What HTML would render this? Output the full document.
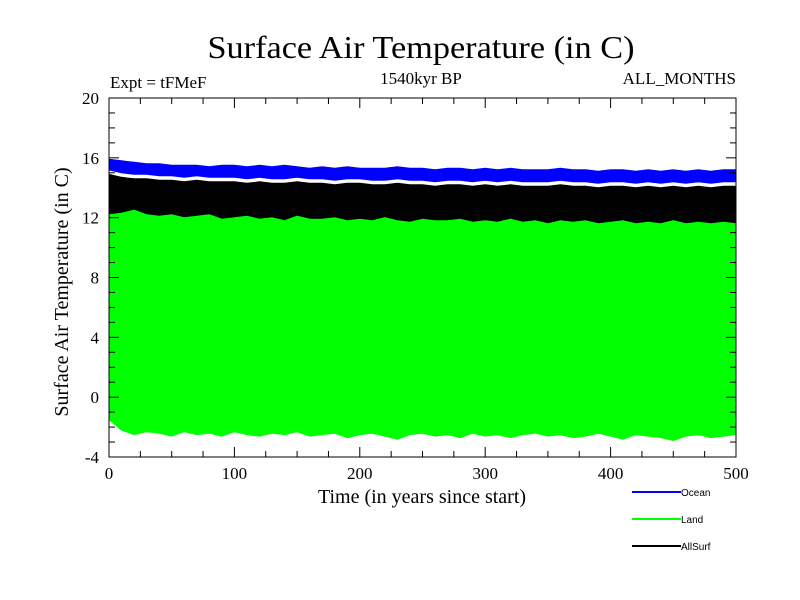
<!DOCTYPE html>
<html><head><meta charset="utf-8"><style>
html,body{margin:0;padding:0;background:#fff;width:800px;height:600px;overflow:hidden}
text{font-family:"Liberation Serif",serif;fill:#000}
.leg{font-family:"Liberation Sans",sans-serif;font-size:10px}
</style></head><body>
<svg id="chart" width="800" height="600">
<text x="421" y="58" font-size="32" text-anchor="middle" textLength="427" lengthAdjust="spacingAndGlyphs">Surface Air Temperature (in C)</text>
<text x="110" y="88" font-size="17">Expt = tFMeF</text>
<text x="421" y="84" font-size="17" text-anchor="middle">1540kyr BP</text>
<text x="736" y="84" font-size="17" text-anchor="end">ALL_MONTHS</text>
<text x="422" y="503" font-size="20" text-anchor="middle">Time (in years since start)</text>
<text transform="translate(68,292) rotate(-90)" font-size="20" text-anchor="middle">Surface Air Temperature (in C)</text>
<g id="marks"></g>
<g id="axes"></g>
<g id="legend"></g>
</svg>
<script>
const years = [0,10,20,30,40,50,60,70,80,90,100,110,120,130,140,150,160,170,180,190,200,210,220,230,240,250,260,270,280,290,300,310,320,330,340,350,360,370,380,390,400,410,420,430,440,450,460,470,480,490,500];
const oceanMax = [15.9,15.8,15.7,15.6,15.6,15.5,15.5,15.5,15.4,15.5,15.5,15.4,15.5,15.4,15.5,15.4,15.3,15.4,15.3,15.4,15.3,15.3,15.3,15.4,15.3,15.3,15.2,15.3,15.3,15.2,15.3,15.2,15.3,15.2,15.2,15.2,15.3,15.2,15.2,15.1,15.2,15.2,15.1,15.2,15.1,15.2,15.1,15.2,15.1,15.2,15.2];
const oceanMin = [15.2,15.0,14.9,14.9,14.8,14.8,14.7,14.8,14.7,14.7,14.7,14.6,14.7,14.6,14.6,14.7,14.6,14.6,14.5,14.6,14.6,14.5,14.5,14.6,14.5,14.5,14.4,14.5,14.5,14.4,14.5,14.4,14.5,14.4,14.4,14.4,14.5,14.4,14.4,14.3,14.4,14.4,14.3,14.4,14.3,14.4,14.3,14.4,14.3,14.4,14.4];
const allMax = [14.9,14.7,14.6,14.6,14.5,14.5,14.4,14.5,14.4,14.4,14.4,14.3,14.4,14.3,14.3,14.4,14.3,14.3,14.2,14.3,14.3,14.2,14.2,14.3,14.2,14.2,14.1,14.2,14.2,14.1,14.2,14.1,14.2,14.1,14.1,14.1,14.2,14.1,14.1,14.0,14.1,14.1,14.0,14.1,14.0,14.1,14.0,14.1,14.0,14.1,14.1];
const allMin = [10.5,11.3,11.2,11.2,11.1,11.1,11.0,11.1,11.0,11.0,11.0,10.9,11.0,10.9,10.9,11.0,10.9,10.9,10.8,10.9,10.9,10.8,10.8,10.9,10.8,10.8,10.7,10.8,10.8,10.7,10.8,10.7,10.8,10.7,10.7,10.7,10.8,10.7,10.7,10.6,10.7,10.7,10.6,10.7,10.6,10.7,10.6,10.7,10.6,10.7,10.7];
const landMax = [12.2,12.3,12.5,12.2,12.1,12.2,12.0,12.1,12.2,11.9,12.0,12.1,11.9,12.0,11.8,12.1,11.9,11.9,12.0,11.8,11.9,11.8,12.0,11.8,11.7,11.9,11.8,11.8,11.9,11.7,11.8,11.7,11.9,11.7,11.8,11.6,11.8,11.7,11.8,11.6,11.7,11.8,11.6,11.7,11.6,11.8,11.6,11.7,11.6,11.7,11.6];
const landMin = [-1.5,-2.2,-2.5,-2.3,-2.4,-2.6,-2.3,-2.5,-2.4,-2.6,-2.3,-2.5,-2.6,-2.4,-2.5,-2.3,-2.6,-2.5,-2.4,-2.7,-2.5,-2.4,-2.6,-2.8,-2.5,-2.4,-2.6,-2.5,-2.7,-2.4,-2.6,-2.5,-2.7,-2.5,-2.4,-2.6,-2.5,-2.7,-2.6,-2.4,-2.6,-2.8,-2.5,-2.6,-2.7,-2.9,-2.6,-2.5,-2.7,-2.6,-2.5];
const xTicks = [0,100,200,300,400,500];
const yTicks = [-4,0,4,8,12,16,20];
const legendNames = ["Ocean","Land","AllSurf"];
const legendColors = ["#0000ff","#00ff00","#000000"];

const X0=109,X1=736,Y0=98,Y1=457;
const xs=v=>X0+(v-0)/(500-0)*(X1-X0);
const ys=v=>Y1-(v+4)/24*(Y1-Y0);
const NS='http://www.w3.org/2000/svg';
function mk(tag,attrs,parent){const e=document.createElementNS(NS,tag);for(const k in attrs)e.setAttribute(k,attrs[k]);parent.appendChild(e);return e;}
const marks=document.getElementById('marks');
function band(maxA,minA,color,name){
  let d='';
  years.forEach((y,i)=>{d+=(i?'L':'M')+xs(y).toFixed(1)+','+ys(maxA[i]).toFixed(1);});
  for(let i=years.length-1;i>=0;i--)d+='L'+xs(years[i]).toFixed(1)+','+ys(minA[i]).toFixed(1);
  const p=mk('path',{d:d+'Z',fill:color,stroke:color,'stroke-width':1},marks);
  
  
}
band(oceanMax,oceanMin,'#0000ff','ocean-series');
band(allMax,allMin,'#000000','allsurf-series');
band(landMax,landMin,'#00ff00','land-series');

const axes=document.getElementById('axes');
const frame=mk('rect',{x:X0,y:Y0,width:X1-X0,height:Y1-Y0,fill:'none',stroke:'#000','stroke-width':1},axes);


for(let v=0;v<=500;v+=25){
  const len=(v%100===0)?10:6;const x=xs(v);
  mk('line',{x1:x,y1:Y1,x2:x,y2:Y1-len,stroke:'#000'},axes);
  mk('line',{x1:x,y1:Y0,x2:x,y2:Y0+len,stroke:'#000'},axes);
}
for(let v=-4;v<=20;v+=1){
  const len=(v%4===0)?10:6;const y=ys(v);
  mk('line',{x1:X0,y1:y,x2:X0+len,y2:y,stroke:'#000'},axes);
  mk('line',{x1:X1,y1:y,x2:X1-len,y2:y,stroke:'#000'},axes);
}
xTicks.forEach(v=>{const t=mk('text',{x:xs(v),y:Y1+22,'font-size':17,'text-anchor':'middle'},axes);t.textContent=v;

});
yTicks.forEach(v=>{const t=mk('text',{x:X0-10,y:ys(v)+6,'font-size':17,'text-anchor':'end'},axes);t.textContent=v;

});

const legend=document.getElementById('legend');
legendNames.forEach((n,i)=>{
  const y=492+i*27;
  const g=mk('g',{},legend);
  
  
  mk('line',{x1:632,y1:y,x2:681,y2:y,stroke:legendColors[i],'stroke-width':2},g);
  const t=mk('text',{x:681,y:y+4,class:'leg'},g);t.textContent=n;
});
</script>
</body></html>
